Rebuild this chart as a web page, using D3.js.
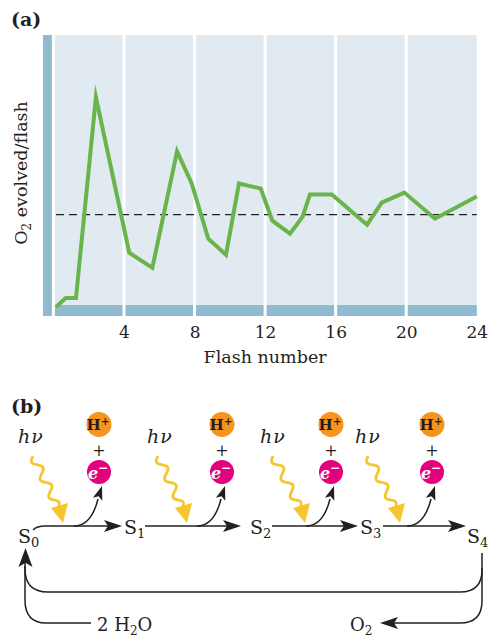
<!DOCTYPE html>
<html><head><meta charset="utf-8">
<script src="https://cdn.jsdelivr.net/npm/d3@7"></script>
<style>
body{margin:0;background:#fff;}
svg{display:block;}
text{font-family:"DejaVu Serif",serif;fill:#231f20;}
</style></head><body>
<svg id="c" width="489" height="637"></svg>
<script>
// ---- data ----
const flashNumber = [0.15,0.70,1.28,2.41,4.30,5.61,7.01,7.84,8.78,9.78,10.52,11.75,12.41,13.41,14.13,14.54,15.78,17.78,18.61,19.89,21.63,24.0];
const o2PerFlash  = [0.09,0.18,0.18,2.18,0.63,0.48,1.64,1.32,0.77,0.61,1.32,1.27,0.95,0.82,0.99,1.21,1.21,0.91,1.13,1.23,0.97,1.19];
const steadyState = 1.01;
const xTickValues = [4,8,12,16,20,24];
const gridFlashes = [0,4,8,12,16,20];
const stateSubs = ["0","1","2","3","4"];
const flashSteps = ["1","2","3","4"];

const svg = d3.select("#c");
const GREEN="#6ab44c", BG="#e1e9f1", BAR="#8fbad0", ORANGE="#f7941e", MAGENTA="#e5007d", YELLOW="#f5c630", INK="#231f20";

// ================= (a) =================
const x = d3.scaleLinear().domain([0,24]).range([53.4,476.8]);
const y = d3.scaleLinear().domain([0,2.8]).range([316,35]);
const plotTop=35, plotBottom=316, barTop=305;

svg.append("text").attr("x",11).attr("y",26).attr("font-size",19).attr("font-weight","bold").text("(a)");

svg.append("rect").attr("x",x(0)).attr("y",plotTop).attr("width",x(24)-x(0)).attr("height",barTop-plotTop).attr("fill",BG);
svg.append("rect").attr("x",x(0)).attr("y",barTop).attr("width",x(24)-x(0)).attr("height",plotBottom-barTop).attr("fill",BAR);
svg.append("rect").attr("x",43).attr("y",plotTop).attr("width",9.4).attr("height",plotBottom-plotTop).attr("fill",BAR);
svg.append("g").selectAll("line").data(gridFlashes).join("line")
  .attr("x1",d=>x(d)).attr("x2",d=>x(d)).attr("y1",plotTop).attr("y2",plotBottom)
  .attr("stroke","#fff").attr("stroke-width",3);

svg.append("line").attr("x1",x(0.15)).attr("x2",x(24)).attr("y1",y(steadyState)).attr("y2",y(steadyState))
  .attr("stroke","#222").attr("stroke-width",1.4).attr("stroke-dasharray","8,5");

const line = d3.line().x((d,i)=>x(flashNumber[i])).y(d=>y(d));
svg.append("path").datum(o2PerFlash).attr("d",line).attr("fill","none")
  .attr("stroke",GREEN).attr("stroke-width",4).attr("stroke-linejoin","miter").attr("stroke-miterlimit",10);

const ax = svg.append("g").attr("transform",`translate(0,${plotBottom})`)
  .call(d3.axisBottom(x).tickValues(xTickValues).tickSize(0).tickPadding(10).tickFormat(d3.format("d")));
ax.select(".domain").remove();
ax.selectAll("text").attr("font-family","DejaVu Serif").attr("font-size",17).attr("fill",INK);

svg.append("text").attr("x",(x(0)+x(24))/2).attr("y",362.5).attr("text-anchor","middle").attr("font-size",17.5).text("Flash number");

const yl = svg.append("text").attr("transform","translate(27,173) rotate(-90)").attr("text-anchor","middle").attr("font-size",17.5);
yl.append("tspan").text("O");
yl.append("tspan").attr("font-size",12).attr("dy",4).text("2");
yl.append("tspan").attr("dy",-4).text(" evolved/flash");

// ================= (b) =================
svg.append("text").attr("x",11).attr("y",413).attr("font-size",19).attr("font-weight","bold").text("(b)");

function head(tx,ty,ang,len,wid){
  const c=Math.cos(ang), s=Math.sin(ang);
  const pts=[[0,0],[-len,-wid/2],[-len*0.78,0],[-len,wid/2]].map(([u,v])=>[tx+u*c-v*s, ty+u*s+v*c]);
  return "M"+pts.map(p=>p.join(",")).join("L")+"Z";
}
const g = svg.append("g");
const lineY = 526;

const stateX = [18,124,250,360,467];
const stateY = [543,534,534,534,543];
stateSubs.forEach((s,i)=>{
  const t=g.append("text").attr("x",stateX[i]).attr("y",stateY[i]).attr("font-size",19);
  t.append("tspan").text("S");
  t.append("tspan").attr("font-size",13).attr("dy",4).text(s);
});

const arrowFrom=[45,145,272,383], arrowTip=[122,241,358,466];
g.append("path").attr("d",`M33,530 Q37,526 45,526`).attr("fill","none").attr("stroke",INK).attr("stroke-width",1.5);
flashSteps.forEach((f,i)=>{
  g.append("line").attr("x1",arrowFrom[i]).attr("x2",arrowTip[i]-12).attr("y1",lineY).attr("y2",lineY).attr("stroke",INK).attr("stroke-width",1.5);
  g.append("path").attr("d",head(arrowTip[i],lineY,0,18,12)).attr("fill",INK);
});

const ionX=[99,222,331,432];
flashSteps.forEach((f,i)=>{
  const cx=ionX[i];
  g.append("circle").attr("cx",cx).attr("cy",424.5).attr("r",12.5).attr("fill",ORANGE);
  const h=g.append("text").attr("x",cx-1).attr("y",430).attr("text-anchor","middle").attr("font-size",15).attr("font-weight","bold");
  h.append("tspan").text("H");
  h.append("tspan").attr("font-size",10.5).attr("dy",-5.5).text("+");
  g.append("text").attr("x",cx).attr("y",455.5).attr("text-anchor","middle").attr("font-size",16).text("+");
  g.append("circle").attr("cx",cx).attr("cy",472).attr("r",12).attr("fill",MAGENTA);
  const e=g.append("text").attr("x",cx-1).attr("y",478.5).attr("text-anchor","middle").attr("font-size",16).attr("font-weight","bold").attr("font-style","italic").style("fill","#fff");
  e.append("tspan").text("e");
  e.append("tspan").attr("font-size",12).attr("dy",-6.5).text("\u2212");
  g.append("path").attr("d",`M${cx-25},${lineY} C${cx-10},${lineY} ${cx-4},${lineY-15} ${cx-1},${lineY-27}`)
    .attr("fill","none").attr("stroke",INK).attr("stroke-width",1.5);
  g.append("path").attr("d",head(cx+3,486,Math.atan2(-12,4),14,10)).attr("fill",INK);
});

const hvX=[18,147,260,355], waveStartX=[33,158,273,368], waveTipX=[63,187,305,400];
flashSteps.forEach((f,i)=>{
  const t=g.append("text").attr("x",hvX[i]).attr("y",443).attr("font-size",19).attr("font-style","italic").attr("letter-spacing",1);
  t.text("h\u03BD");
  const sx=waveStartX[i], sy=456, tx=waveTipX[i], ty=523;
  const ex=tx-4, ey=ty-14;
  const dx=ex-sx, dy=ey-sy, L=Math.hypot(dx,dy), ux=dx/L, uy=dy/L, nx=-uy, ny=ux;
  const pts=d3.range(0,1.0001,0.01).map(t=>{const a=4*Math.sin(2*Math.PI*3*t)*Math.min(1,(1-t)*6+0.2);return [sx+dx*t+nx*a, sy+dy*t+ny*a];});
  g.append("path").attr("d",d3.line().curve(d3.curveBasis)(pts)).attr("fill","none").attr("stroke",YELLOW).attr("stroke-width",2.8);
  g.append("path").attr("d",`M${tx-12},${ey-1} L${tx+5},${ey-6} L${tx},${ty} Z`).attr("fill",YELLOW);
});

const stroke = p=>g.append("path").attr("d",p).attr("fill","none").attr("stroke",INK).attr("stroke-width",1.5);
stroke("M482,553 V570 Q482,592 460,592 H48 Q25,592 25,569 V562");
stroke("M91,623 H46 Q25,623 25,600 V566");
stroke("M482,568 V601 Q482,623 460,623 H394");
g.append("path").attr("d",head(25.5,548,-Math.PI/2,19,14)).attr("fill",INK);
g.append("path").attr("d",head(380,623,Math.PI,18,12)).attr("fill",INK);

const w=g.append("text").attr("x",97).attr("y",631).attr("font-size",18);
w.append("tspan").text("2 H");
w.append("tspan").attr("font-size",12).attr("dy",4).text("2");
w.append("tspan").attr("dy",-4).text("O");
const o=g.append("text").attr("x",350).attr("y",631).attr("font-size",18);
o.append("tspan").text("O");
o.append("tspan").attr("font-size",12).attr("dy",4).text("2");
</script></body></html>
